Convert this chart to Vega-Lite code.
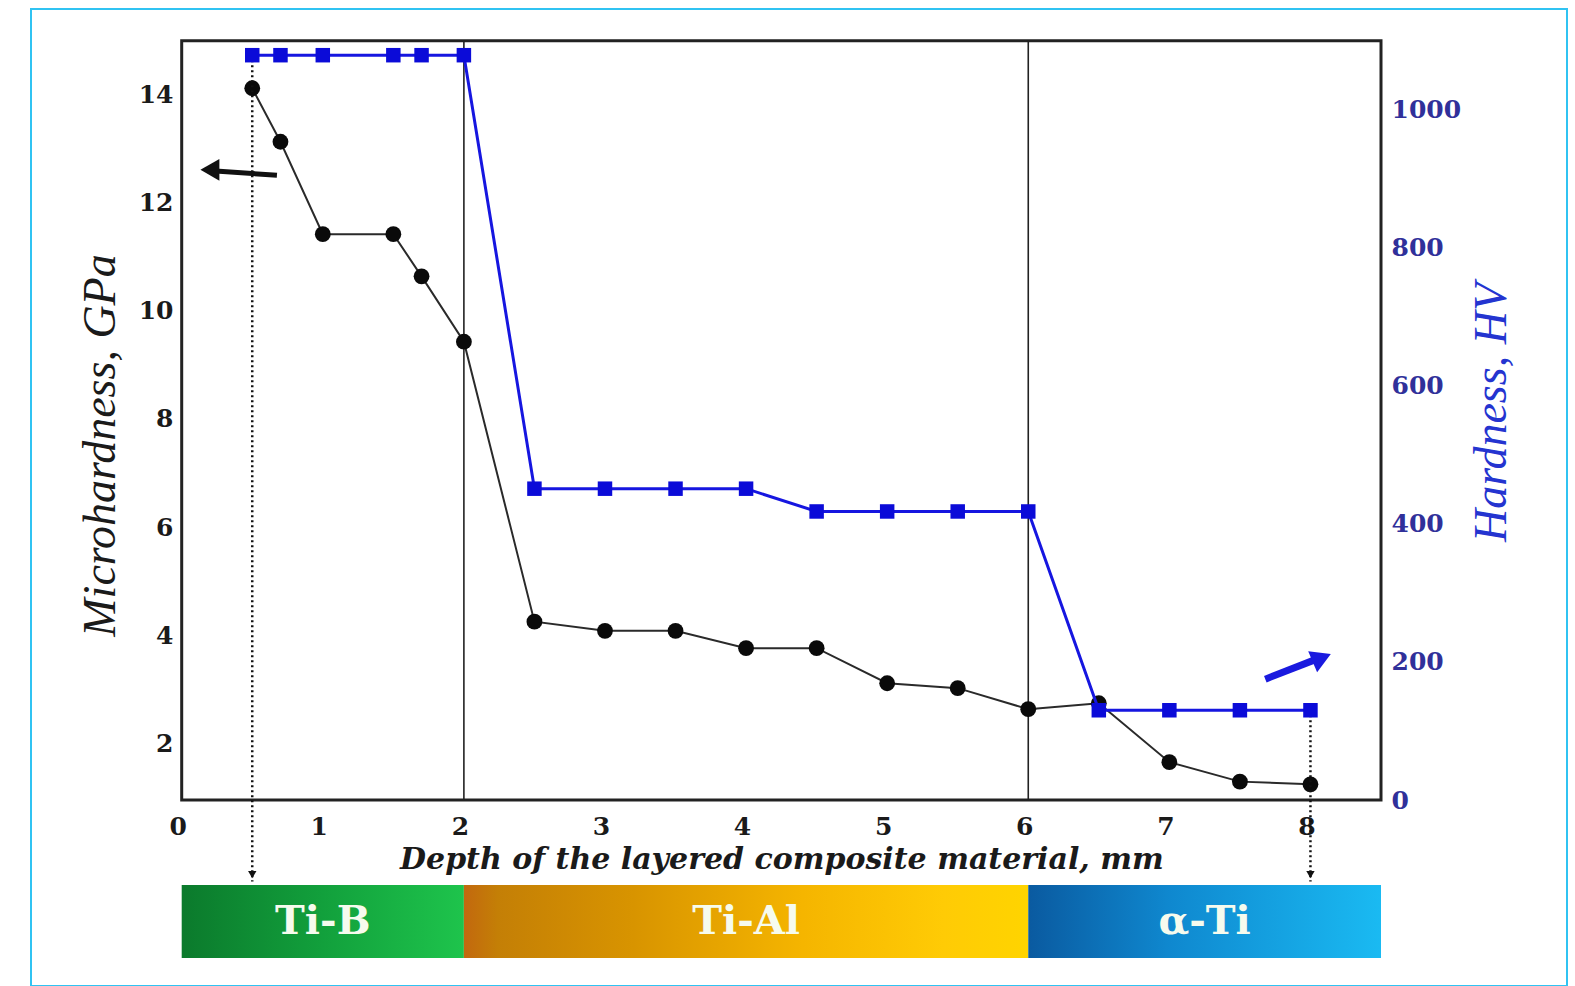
{
  "$schema": "https://vega.github.io/schema/vega-lite/v6.json",
  "width": 1536,
  "height": 977,
  "padding": {"left": 31, "top": 9, "right": 8, "bottom": 0},
  "autosize": {"type": "none"},
  "background": "#ffffff",
  "config": {
    "view": {"stroke": "#30c3f2", "strokeWidth": 2},
    "axis": {"grid": false, "ticks": false, "domain": false}
  },
  "datasets": {
    "profile": [
      {"depth": 0.5, "micro": 14.12, "hv": 1079},
      {"depth": 0.7, "micro": 13.13, "hv": 1079},
      {"depth": 1.0, "micro": 11.42, "hv": 1079},
      {"depth": 1.5, "micro": 11.42, "hv": 1079},
      {"depth": 1.7, "micro": 10.64, "hv": 1079},
      {"depth": 2.0, "micro": 9.43, "hv": 1079},
      {"depth": 2.5, "micro": 4.25, "hv": 451},
      {"depth": 3.0, "micro": 4.08, "hv": 451},
      {"depth": 3.5, "micro": 4.08, "hv": 451},
      {"depth": 4.0, "micro": 3.76, "hv": 451},
      {"depth": 4.5, "micro": 3.76, "hv": 418},
      {"depth": 5.0, "micro": 3.11, "hv": 418},
      {"depth": 5.5, "micro": 3.02, "hv": 418},
      {"depth": 6.0, "micro": 2.63, "hv": 418},
      {"depth": 6.5, "micro": 2.74, "hv": 130},
      {"depth": 7.0, "micro": 1.65, "hv": 130},
      {"depth": 7.5, "micro": 1.29, "hv": 130},
      {"depth": 8.0, "micro": 1.24, "hv": 130}
    ],
    "dividers": [{"depth": 2}, {"depth": 6}],
    "plotbox": [{"x0": 0, "x1": 8.5, "y0": 0.95, "y1": 15}],
    "leftArrow": [{"x0": 0.675, "y0": 12.51, "x1": 0.24, "y1": 12.59, "hx": 0.2, "hy": 12.61}],
    "blueArrow": [{"x0": 7.68, "y0": 175, "x1": 8.03, "y1": 203, "hx": 8.08, "hy": 206}],
    "markers": [
      {"depth": 0.5, "top": 1079, "bottom": -118, "head": -108},
      {"depth": 8.0, "top": 130, "bottom": -118, "head": -108}
    ],
    "phases": [
      {"phase": "Ti-B", "start": 0, "end": 2, "mid": 1},
      {"phase": "Ti-Al", "start": 2, "end": 6, "mid": 4},
      {"phase": "α-Ti", "start": 6, "end": 8.5, "mid": 7.25}
    ]
  },
  "layer": [
    {
      "layer": [
        {
          "data": {"name": "plotbox"},
          "mark": {"type": "rect", "fillOpacity": 0, "stroke": "#222222", "strokeWidth": 3},
          "encoding": {
            "x": {"field": "x0", "type": "quantitative"},
            "x2": {"field": "x1"},
            "y": {"field": "y0", "type": "quantitative"},
            "y2": {"field": "y1"}
          }
        },
        {
          "data": {"name": "dividers"},
          "mark": {"type": "rule", "color": "#222222", "strokeWidth": 1.6},
          "encoding": {
            "x": {"field": "depth", "type": "quantitative"},
            "y": {"datum": 0.95, "type": "quantitative"},
            "y2": {"datum": 15}
          }
        },
        {
          "data": {"name": "profile"},
          "mark": {"type": "line", "color": "#2a2a2a", "strokeWidth": 2},
          "encoding": {
            "x": {
              "field": "depth", "type": "quantitative",
              "scale": {"domain": [0, 8.5], "range": [150.7, 1350], "nice": false, "zero": false},
              "axis": {
                "orient": "bottom", "offset": -186, "values": [0, 1, 2, 3, 4, 5, 6, 7, 8], "format": "d",
                "labelFlush": false, "labelFont": "DejaVu Serif", "labelFontWeight": "bold",
                "labelFontSize": 25, "labelColor": "#1a1a1a", "labelPadding": 14, "labelOffset": -4,
                "title": "Depth of the layered composite material, mm",
                "titleFont": "DejaVu Serif", "titleFontStyle": "italic", "titleFontWeight": "bold",
                "titleFontSize": 30, "titleColor": "#1a1a1a", "titlePadding": 5
              }
            },
            "y": {
              "field": "micro", "type": "quantitative",
              "scale": {"domain": [0.95, 15], "range": [791, 31.7], "nice": false, "zero": false},
              "axis": {
                "orient": "left", "offset": -151, "values": [2, 4, 6, 8, 10, 12, 14], "format": "d",
                "labelFont": "DejaVu Serif", "labelFontWeight": "bold", "labelFontSize": 25,
                "labelColor": "#1a1a1a", "labelPadding": 9,
                "title": "Microhardness, GPa", "titleFont": "Liberation Serif",
                "titleFontStyle": "italic", "titleFontWeight": "normal", "titleFontSize": 46,
                "titleColor": "#1a1a1a", "titlePadding": 14, "titleY": 436
              }
            }
          }
        },
        {
          "data": {"name": "profile"},
          "mark": {"type": "circle", "color": "#0a0a0a", "size": 250, "opacity": 1},
          "encoding": {
            "x": {"field": "depth", "type": "quantitative"},
            "y": {"field": "micro", "type": "quantitative"}
          }
        },
        {
          "data": {"name": "leftArrow"},
          "mark": {"type": "rule", "color": "#111111", "strokeWidth": 5},
          "encoding": {
            "x": {"field": "x0", "type": "quantitative"},
            "x2": {"field": "x1"},
            "y": {"field": "y0", "type": "quantitative"},
            "y2": {"field": "y1"}
          }
        },
        {
          "data": {"name": "leftArrow"},
          "mark": {"type": "point", "shape": "triangle-left", "filled": true, "color": "#111111", "size": 480, "opacity": 1},
          "encoding": {
            "x": {"field": "hx", "type": "quantitative"},
            "y": {"field": "hy", "type": "quantitative"}
          }
        }
      ]
    },
    {
      "layer": [
        {
          "data": {"name": "markers"},
          "mark": {"type": "rule", "color": "#111111", "strokeWidth": 2.5, "strokeDash": [2, 3]},
          "encoding": {
            "x": {"field": "depth", "type": "quantitative"},
            "y": {"field": "top", "type": "quantitative"},
            "y2": {"field": "bottom"}
          }
        },
        {
          "data": {"name": "markers"},
          "mark": {"type": "point", "shape": "triangle-down", "filled": true, "color": "#111111", "size": 70, "opacity": 1},
          "encoding": {
            "x": {"field": "depth", "type": "quantitative"},
            "y": {"field": "head", "type": "quantitative"}
          }
        },
        {
          "data": {"name": "profile"},
          "mark": {"type": "line", "color": "#1616e0", "strokeWidth": 3},
          "encoding": {
            "x": {"field": "depth", "type": "quantitative"},
            "y": {
              "field": "hv", "type": "quantitative",
              "scale": {"domain": [0, 1100], "range": [791, 31.7], "nice": false, "zero": false},
              "axis": {
                "orient": "right", "offset": -186, "values": [0, 200, 400, 600, 800, 1000], "format": "d",
                "labelFont": "DejaVu Serif", "labelFontWeight": "bold", "labelFontSize": 25,
                "labelColor": "#30309a", "labelPadding": 10,
                "title": "Hardness, HV", "titleFont": "Liberation Serif",
                "titleFontStyle": "italic", "titleFontWeight": "normal", "titleFontSize": 46,
                "titleColor": "#2434d0", "titleAngle": 270, "titleBaseline": "top",
                "titlePadding": 9, "titleY": 403
              }
            }
          }
        },
        {
          "data": {"name": "profile"},
          "mark": {"type": "square", "color": "#0b0bd8", "size": 210, "opacity": 1},
          "encoding": {
            "x": {"field": "depth", "type": "quantitative"},
            "y": {"field": "hv", "type": "quantitative"}
          }
        },
        {
          "data": {"name": "blueArrow"},
          "mark": {"type": "rule", "color": "#1a1adf", "strokeWidth": 7},
          "encoding": {
            "x": {"field": "x0", "type": "quantitative"},
            "x2": {"field": "x1"},
            "y": {"field": "y0", "type": "quantitative"},
            "y2": {"field": "y1"}
          }
        },
        {
          "data": {"name": "blueArrow"},
          "mark": {"type": "point", "shape": "triangle-right", "filled": true, "color": "#1a1adf", "size": 520, "opacity": 1, "angle": -23},
          "encoding": {
            "x": {"field": "hx", "type": "quantitative"},
            "y": {"field": "hy", "type": "quantitative"}
          }
        }
      ]
    },
    {
      "layer": [
        {
          "data": {"name": "phases"},
          "transform": [{"filter": "datum.phase === 'Ti-B'"}],
          "mark": {"type": "rect", "fill": {"gradient": "linear", "x1": 0, "y1": 0, "x2": 1, "y2": 0, "stops": [{"offset": 0, "color": "#0b7a2c"}, {"offset": 0.5, "color": "#12a03c"}, {"offset": 1, "color": "#1ec44c"}]}},
          "encoding": {
            "x": {"field": "start", "type": "quantitative"},
            "x2": {"field": "end"},
            "y": {"datum": 0, "type": "quantitative", "axis": null, "scale": {"domain": [0, 1], "range": [949, 876], "nice": false, "zero": false}},
            "y2": {"datum": 1}
          }
        },
        {
          "data": {"name": "phases"},
          "transform": [{"filter": "datum.phase === 'Ti-Al'"}],
          "mark": {"type": "rect", "fill": {"gradient": "linear", "x1": 0, "y1": 0, "x2": 1, "y2": 0, "stops": [{"offset": 0, "color": "#c2680f"}, {"offset": 0.06, "color": "#c47f06"}, {"offset": 0.3, "color": "#d89400"}, {"offset": 0.6, "color": "#f5b500"}, {"offset": 0.85, "color": "#ffcb05"}, {"offset": 1, "color": "#ffd400"}]}},
          "encoding": {
            "x": {"field": "start", "type": "quantitative"},
            "x2": {"field": "end"},
            "y": {"datum": 0, "type": "quantitative", "axis": null},
            "y2": {"datum": 1}
          }
        },
        {
          "data": {"name": "phases"},
          "transform": [{"filter": "datum.phase === 'α-Ti'"}],
          "mark": {"type": "rect", "fill": {"gradient": "linear", "x1": 0, "y1": 0, "x2": 1, "y2": 0, "stops": [{"offset": 0, "color": "#0a5aa0"}, {"offset": 0.4, "color": "#0f88cf"}, {"offset": 1, "color": "#1abaf2"}]}},
          "encoding": {
            "x": {"field": "start", "type": "quantitative"},
            "x2": {"field": "end"},
            "y": {"datum": 0, "type": "quantitative", "axis": null},
            "y2": {"datum": 1}
          }
        },
        {
          "data": {"name": "phases"},
          "mark": {"type": "text", "font": "DejaVu Serif", "fontWeight": "bold", "fontSize": 40, "color": "#f6fbee", "baseline": "middle", "align": "center"},
          "encoding": {
            "x": {"field": "mid", "type": "quantitative"},
            "y": {"datum": 0.5, "type": "quantitative", "axis": null},
            "text": {"field": "phase"}
          }
        }
      ]
    }
  ],
  "resolve": {"scale": {"y": "independent"}, "axis": {"y": "independent"}}
}
